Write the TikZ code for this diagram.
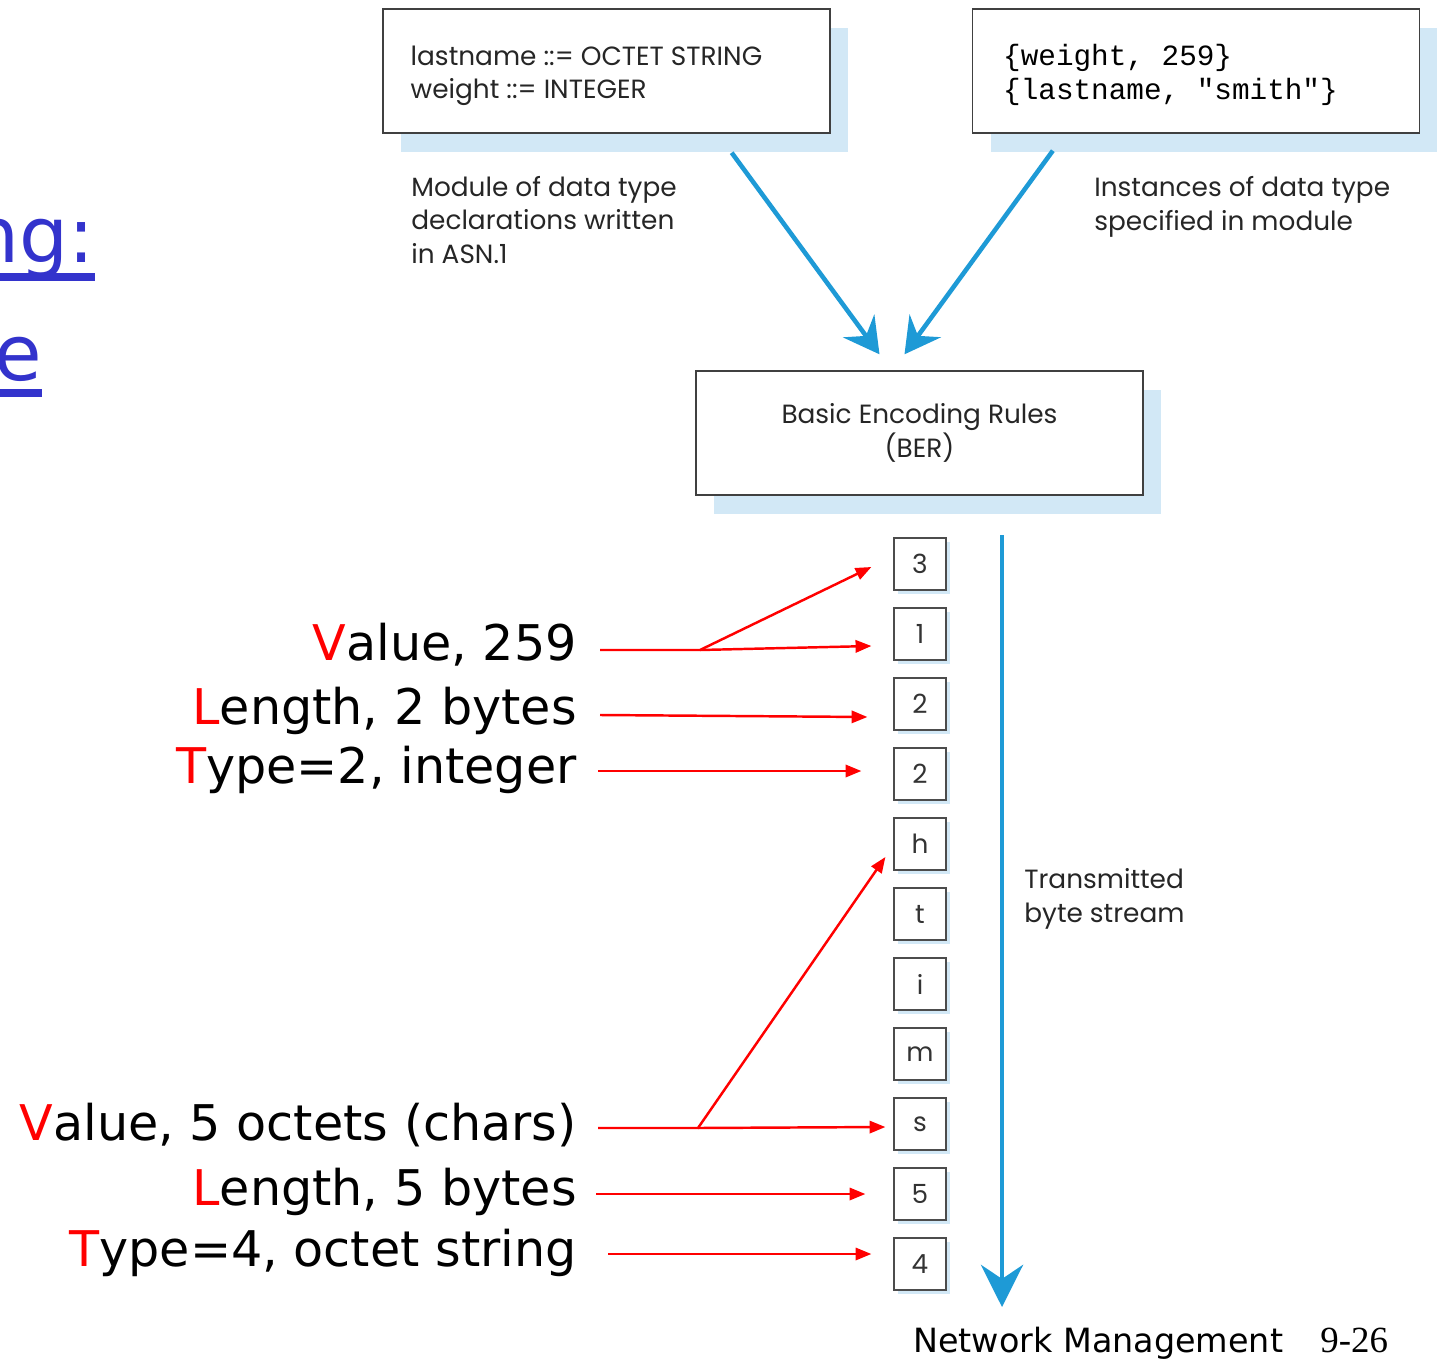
\documentclass[tikz,border=0pt]{standalone}
\usepackage{fontspec}
\setmainfont{DejaVu Sans}
\newfontfamily\figfont{Poppins}
\newfontfamily\codefont{Liberation Mono}
\newfontfamily\pagefont{Liberation Serif}
\usetikzlibrary{arrows.meta,shadows}
\definecolor{streamblue}{HTML}{1E9AD6}
\definecolor{shadeblue}{HTML}{D2E8F6}
\definecolor{titleblue}{HTML}{3333CC}

\begin{document}
\begin{tikzpicture}[x=0.02cm,y=-0.02cm,
	figbox/.style={draw=black!75, fill=white, line width=0.8pt, minimum width=8.94cm, minimum height=2.48cm, inner sep=0pt,
		copy shadow={shadow xshift=0.36cm, shadow yshift=-0.38cm, draw=none, fill=shadeblue}},
	bytebox/.style={draw=black!70, fill=white, line width=0.7pt, minimum width=1.04cm, minimum height=1.04cm, inner sep=0pt,
		font=\figfont\fontsize{15}{15}\selectfont, text=black!80,
		copy shadow={shadow xshift=0.08cm, shadow yshift=-0.08cm, draw=none, fill=shadeblue}},
	figtext/.style={font=\figfont\fontsize{15}{19}\selectfont, align=left, inner sep=0pt, text=black!85},
	fieldlabel/.style={font=\fontsize{28}{30}\selectfont, anchor=base east, inner sep=0pt},
	redarrow/.style={red, line width=1.4pt, -{Triangle[length=9pt,width=7pt]}},
	bluearrow/.style={streamblue, line width=2.6pt, -{Stealth[length=20pt,width=22pt,inset=7pt]}}]
	\useasboundingbox (0,0) rectangle (1437,1362);
	\clip (0,0) rectangle (1437,1362);

	\node[font=\fontsize{44}{44}\selectfont, text=titleblue, anchor=base east, inner sep=0pt] (title1) at (95,262) {ng:};
	\fill[titleblue] (0,273) rectangle (95,281);
	\node[font=\fontsize{44}{44}\selectfont, text=titleblue, anchor=base east, inner sep=0pt] (title2) at (42,380) {e};
	\fill[titleblue] (0,389) rectangle (42,397);

	\node[figbox] (asn) at (606.5,71) {};
	\node[figtext, anchor=west] (asntext) at ([shift={(28,5)}]asn.west) {lastname ::= OCTET STRING\\weight ::= INTEGER};
	\node[figbox] (inst) at (1196,71) {};
	\node[anchor=west, align=left, inner sep=0pt, font=\codefont\fontsize{16.7}{19.5}\selectfont] (insttext) at ([shift={(31,4)}]inst.west) {\{weight, 259\}\\\{lastname, "smith"\}};
	\node[figtext, anchor=base west] (asncap) at (411,263) {Module of data type\\declarations written\\in ASN.1};
	\node[figtext, anchor=base west] (instcap) at (1094,230) {Instances of data type\\specified in module};

	\node[figbox, figtext, align=center] (ber) at (919.5,433) {Basic Encoding Rules\\(BER)};
	\draw[bluearrow] ([shift={(-99,19)}]asn.south east) -- ([shift={(-40,-16)}]ber.north);
	\draw[bluearrow] ([shift={(81,17)}]inst.south west) -- ([shift={(-15,-16)}]ber.north);

	\foreach \ch [count=\i] in {3,1,2,2,h,t,i,m,s,5,4}
		\node[bytebox] (b\i) at (920,494+70*\i) {\ch};

	\coordinate (streamtop) at (1002,535);
	\coordinate (streamend) at (1002,1307);
	\draw[streamblue, line width=2.8pt, -{Stealth[length=24pt,width=24pt,inset=8pt]}] (streamtop) -- (streamend);
	\node[figtext, anchor=base west] (streamcap) at (1024,922) {Transmitted\\byte stream};

	\node[fieldlabel] (val1) at (577,660) {\textcolor{red}{V}alue, 259};
	\node[fieldlabel] (len1) at (577,724) {\textcolor{red}{L}ength, 2 bytes};
	\node[fieldlabel] (typ1) at (577,783) {\textcolor{red}{T}ype=2, integer};
	\node[fieldlabel] (val2) at (577,1140) {\textcolor{red}{V}alue, 5 octets (chars)};
	\node[fieldlabel] (len2) at (577,1205) {\textcolor{red}{L}ength, 5 bytes};
	\node[fieldlabel] (typ2) at (577,1266) {\textcolor{red}{T}ype=4, octet string};

	\coordinate (split1) at (700,650);
	\coordinate (split2) at (698,1128);
	\draw[redarrow] ([shift={(23,-10)}]val1.base east) -- (split1) -- ([shift={(-22,3)}]b1.west);
	\draw[redarrow] (split1) -- ([shift={(-22,12)}]b2.west);
	\draw[redarrow] ([shift={(23,-9)}]len1.base east) -- ([shift={(-26,13)}]b3.west);
	\draw[redarrow] ([shift={(21,-12)}]typ1.base east) -- ([shift={(-32,-3)}]b4.west);
	\draw[redarrow] ([shift={(21,-12)}]val2.base east) -- (split2) -- ([shift={(-8,13)}]b5.west);
	\draw[redarrow] (split2) -- ([shift={(-8,3)}]b9.west);
	\draw[redarrow] ([shift={(19,-11)}]len2.base east) -- ([shift={(-28,0)}]b10.west);
	\draw[redarrow] ([shift={(31,-12)}]typ2.base east) -- ([shift={(-22,-10)}]b11.west);

	\node[font=\fontsize{19}{19}\selectfont, anchor=base west, inner sep=0pt] (footer) at (913,1352) {Network Management};
	\node[font=\pagefont\fontsize{21}{21}\selectfont, anchor=base west, inner sep=0pt] (pagenum) at (1320,1352) {9-26};
\end{tikzpicture}
\end{document}
